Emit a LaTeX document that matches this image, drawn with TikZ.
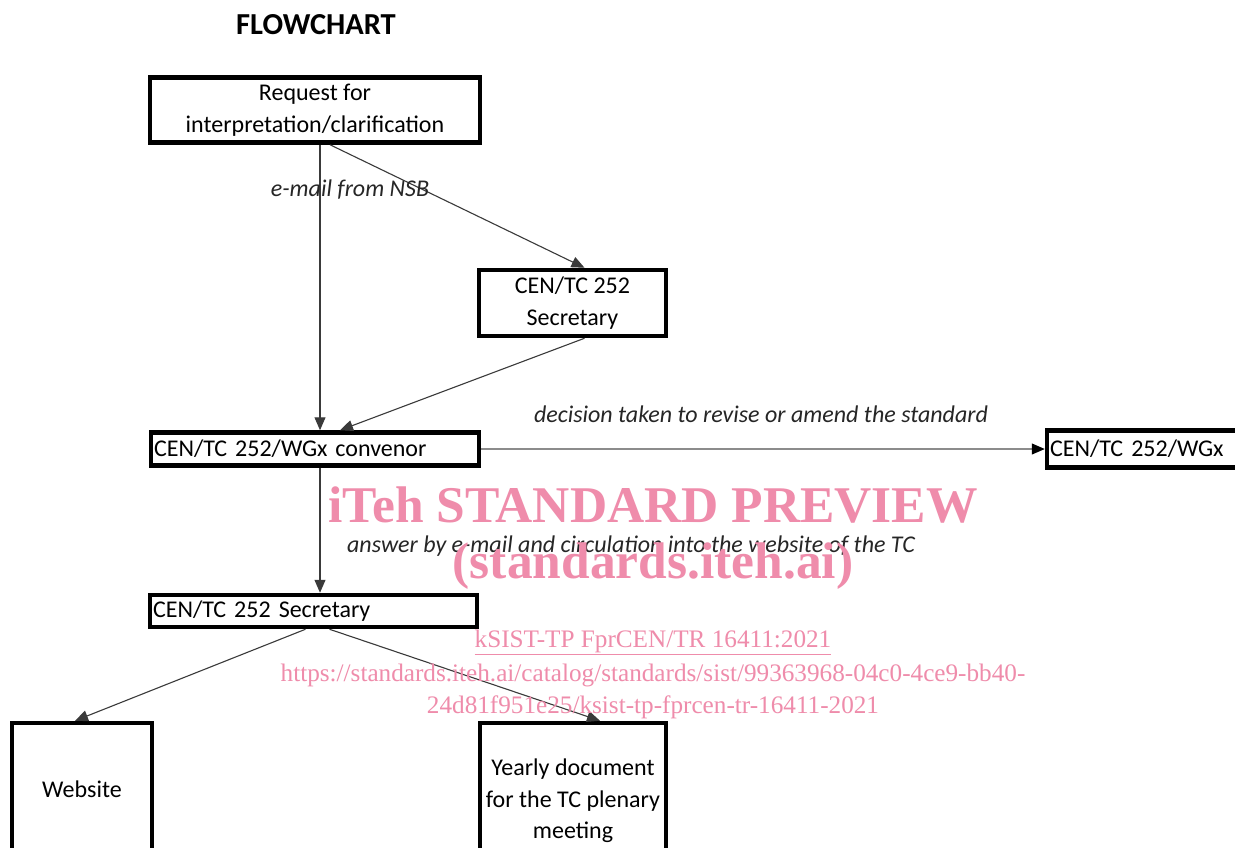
\documentclass[tikz,border=0pt]{standalone}
\usepackage{fontspec}
\setmainfont{Carlito}
\newfontfamily\wmfont{Liberation Serif}
\usepackage{tikz}
\usetikzlibrary{arrows.meta,positioning}
\definecolor{wm}{HTML}{EF8CAB}
\definecolor{wire}{HTML}{3A3A3A}
\tikzset{
  box/.style={draw, rectangle, line width=4.5pt, align=center, inner sep=3pt,
    font=\fontsize{24}{31.5}\selectfont},
  lbox/.style={box, align=left},
  arr/.style={-{Triangle[length=13pt,width=11pt]}, draw=wire, line width=1.1pt},
  garr/.style={-{Triangle[length=13pt,width=11pt,color=black]}, draw=black!45, line width=1.1pt},
  note/.style={font=\fontsize{24}{28}\selectfont\itshape, text=black!85},
  wmark/.style={text=wm}
}
\begin{document}
\begin{tikzpicture}[x=1pt, y=-1pt]
\clip (0,0) rectangle (1235,847);
\fill[white] (0,0) rectangle (1235,847);
\node[font=\fontsize{30.5}{33}\selectfont\bfseries] (title) at (316,25) {FLOWCHART};
\node[box, minimum width=330pt, minimum height=65pt] (req) at (315,110) {Request for\\interpretation/clarification};
\node[box, minimum width=187pt, minimum height=66pt] (sec) at (572.5,303) {CEN/TC 252\\Secretary};
\node[lbox, text width=322pt, minimum height=33pt] (conv) at (315,449) {CEN/TC 252/WGx convenor};
\node[lbox, text width=196pt, minimum height=37pt] (wgx) at (1148,449) {CEN/TC 252/WGx};
\node[lbox, text width=321pt, minimum height=32pt] (sec2) at (313.5,611) {CEN/TC 252 Secretary};
\node[box, minimum width=140pt, minimum height=132pt] (web) at (82,789) {Website};
\node[box, minimum width=186pt, minimum height=156pt] (yearly) at (573,801) {Yearly document\\for the TC plenary\\meeting};
% connectors
\draw[arr] ([xshift=5pt]req.south) -- ([xshift=5pt]req.south |- conv.north);
\draw[arr] ([xshift=15pt]req.south) -- ([xshift=12pt]sec.north);
\draw[arr] ([xshift=12pt]sec.south) -- ([xshift=25pt]conv.north);
\draw[garr] (conv.east) -- (wgx.west);
\draw[arr] ([xshift=5pt]conv.south) -- ([xshift=5pt]conv.south |- sec2.north);
\draw[arr] ([xshift=-8pt]sec2.south) -- ([xshift=-7pt]web.north);
\draw[arr] ([xshift=16pt]sec2.south) -- ([xshift=27pt]yearly.north);
% labels
\node[note] (mail) at (350,190) {e-mail from NSB};
\node[note] (decide) at (761,414) {decision taken to revise or amend the standard};
\node[note] (answer) at (631,546) {answer by e-mail and circulation into the website of the TC};
% watermark
\node[wmark, font=\wmfont\bfseries\fontsize{51.5}{52}\selectfont] (wm1) at (653,505) {iTeh STANDARD PREVIEW};
\node[wmark, font=\wmfont\bfseries\fontsize{51.5}{52}\selectfont] (wm2) at (653,566) {(standards.iteh.ai)};
\node[wmark, font=\wmfont\fontsize{25.2}{26}\selectfont] (wm3) at (653,642) {\underline{kSIST-TP FprCEN/TR 16411:2021}};
\node[wmark, font=\wmfont\fontsize{25.2}{26}\selectfont] (wm4) at (653,675) {https://standards.iteh.ai/catalog/standards/sist/99363968-04c0-4ce9-bb40-};
\node[wmark, font=\wmfont\fontsize{25.2}{26}\selectfont] (wm5) at (653,707) {24d81f951e25/ksist-tp-fprcen-tr-16411-2021};
\end{tikzpicture}
\end{document}
